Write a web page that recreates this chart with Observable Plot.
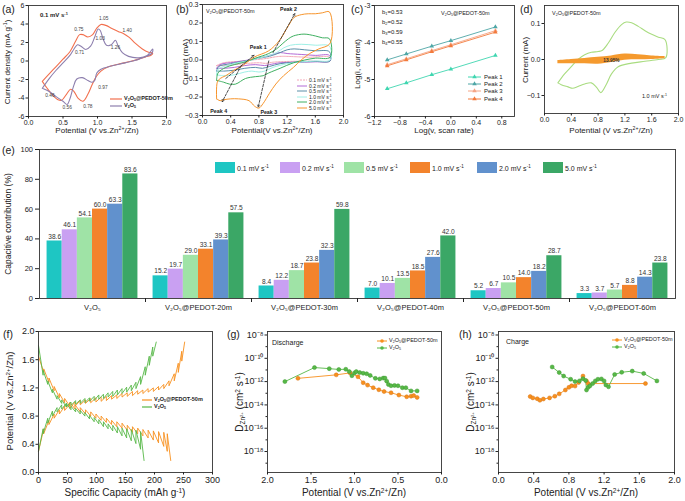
<!DOCTYPE html>
<html><head><meta charset="utf-8">
<script src="https://cdn.jsdelivr.net/npm/d3@7"></script>
<script src="https://cdn.jsdelivr.net/npm/@observablehq/plot@0.6"></script>
<style>
body{margin:0;background:#fff;}
#fig{position:relative;width:685px;height:501px;overflow:hidden;background:#fff;font-family:"Liberation Sans",Arial,sans-serif;color:#222;}
.t{position:absolute;white-space:nowrap;line-height:1;}
.t sup{font-size:65%;vertical-align:0.5em;line-height:0;}
.t sub{font-size:65%;vertical-align:-0.3em;line-height:0;}
</style></head><body><div id="fig"></div>
<script>
// ---------------- DATA ----------------
// (a) CV at 0.1 mV/s : [potential V, current density mA/g]
const aSeries = ["V2O5@PEDOT-50m", "V2O5"];
const aPedot = [[0.2,-2.2],[0.3,-1.4],[0.4,-0.6],[0.5,0.2],[0.6,1.0],[0.68,2.1],[0.74,2.85],[0.79,2.85],[0.86,2.6],[0.93,2.85],[0.99,3.55],[1.05,3.95],[1.12,3.85],[1.2,3.55],[1.3,3.2],[1.38,2.95],[1.46,2.55],[1.55,1.9],[1.65,1.3],[1.74,0.95],[1.8,0.85],[1.78,0.65],[1.7,0.45],[1.5,0.0],[1.3,-0.35],[1.15,-0.65],[1.05,-1.1],[0.98,-1.7],[0.92,-2.6],[0.86,-3.6],[0.79,-4.35],[0.72,-4.05],[0.66,-3.3],[0.61,-3.05],[0.55,-3.6],[0.48,-4.25],[0.42,-4.15],[0.35,-3.7],[0.27,-2.95],[0.2,-2.2]];
const aV2O5 = [[0.2,-2.95],[0.3,-1.9],[0.4,-1.0],[0.5,-0.2],[0.6,0.6],[0.66,1.3],[0.71,1.75],[0.76,1.6],[0.83,1.25],[0.9,1.6],[0.96,2.6],[1.01,3.45],[1.04,3.3],[1.08,2.4],[1.13,1.7],[1.2,1.75],[1.26,2.25],[1.3,1.6],[1.36,0.9],[1.45,0.5],[1.6,0.35],[1.72,0.6],[1.8,1.3],[1.79,0.85],[1.6,0.2],[1.4,-0.2],[1.2,-0.55],[1.05,-0.9],[0.99,-1.3],[0.96,-2.1],[0.92,-2.3],[0.86,-2.1],[0.78,-1.8],[0.7,-1.95],[0.65,-2.8],[0.6,-4.1],[0.56,-4.7],[0.5,-4.35],[0.4,-3.85],[0.3,-3.3],[0.2,-2.95]];
const aPeakLabels = [
  {v:0.73,i:3.45,t:"0.75"},{v:1.09,i:4.55,t:"1.05"},{v:1.43,i:3.3,t:"1.40"},{v:1.04,i:2.4,t:"1.03"},
  {v:0.74,i:0.95,t:"0.71"},{v:1.26,i:1.45,t:"1.26"},{v:0.31,i:-3.7,t:"0.46"},{v:0.56,i:-5.0,t:"0.56"},
  {v:0.86,i:-4.95,t:"0.78"},{v:1.08,i:-2.9,t:"0.97"}];

// (b) CV at several scan rates : [V, mA]
const bRates = ["0.1","0.2","0.5","1.0","2.0","5.0"];
const bCurves = [
  [[0.2,-0.03],[0.3,-0.015],[0.5,-0.008],[0.7,0.0],[0.9,0.008],[1.05,0.018],[1.15,0.02],[1.3,0.018],[1.5,0.015],[1.8,0.015],[1.81,-0.003],[1.5,-0.006],[1.2,-0.008],[1.0,-0.012],[0.9,-0.018],[0.8,-0.015],[0.65,-0.018],[0.45,-0.025],[0.3,-0.03],[0.2,-0.03]],
  [[0.2,-0.045],[0.25,-0.025],[0.45,-0.012],[0.65,0.0],[0.85,0.015],[1.0,0.03],[1.1,0.04],[1.2,0.035],[1.4,0.03],[1.6,0.025],[1.8,0.025],[1.81,-0.005],[1.6,-0.01],[1.3,-0.012],[1.1,-0.015],[0.95,-0.025],[0.88,-0.03],[0.75,-0.025],[0.6,-0.03],[0.45,-0.04],[0.3,-0.045],[0.2,-0.045]],
  [[0.2,-0.06],[0.23,-0.035],[0.4,-0.02],[0.6,-0.005],[0.8,0.01],[0.95,0.02],[1.1,0.04],[1.2,0.055],[1.3,0.06],[1.45,0.055],[1.6,0.05],[1.8,0.045],[1.81,-0.005],[1.6,-0.008],[1.3,-0.012],[1.1,-0.02],[0.95,-0.035],[0.85,-0.045],[0.75,-0.04],[0.6,-0.045],[0.45,-0.055],[0.3,-0.06],[0.2,-0.06]],
  [[0.2,-0.08],[0.22,-0.05],[0.35,-0.03],[0.5,-0.015],[0.7,0.0],[0.9,0.02],[1.05,0.04],[1.15,0.065],[1.25,0.08],[1.4,0.085],[1.6,0.08],[1.8,0.075],[1.81,0.0],[1.6,-0.005],[1.4,-0.01],[1.2,-0.02],[1.0,-0.04],[0.88,-0.06],[0.8,-0.065],[0.7,-0.06],[0.6,-0.065],[0.45,-0.08],[0.3,-0.085],[0.2,-0.08]],
  [[0.2,-0.11],[0.22,-0.07],[0.33,-0.04],[0.45,-0.025],[0.61,-0.01],[0.75,0.01],[0.94,0.035],[1.05,0.06],[1.14,0.09],[1.22,0.115],[1.29,0.13],[1.44,0.14],[1.6,0.13],[1.7,0.12],[1.8,0.115],[1.81,0.015],[1.6,0.01],[1.45,0.0],[1.29,-0.015],[1.1,-0.045],[0.94,-0.07],[0.86,-0.085],[0.75,-0.09],[0.61,-0.1],[0.47,-0.13],[0.38,-0.13],[0.3,-0.12],[0.2,-0.11]],
  [[0.2,-0.21],[0.21,-0.12],[0.25,-0.1],[0.33,-0.085],[0.45,-0.055],[0.57,-0.03],[0.73,0.015],[0.94,0.05],[1.09,0.105],[1.21,0.18],[1.3,0.23],[1.4,0.245],[1.5,0.25],[1.6,0.25],[1.7,0.255],[1.8,0.26],[1.81,0.09],[1.65,0.06],[1.52,0.035],[1.4,0.0],[1.29,-0.04],[1.15,-0.085],[1.04,-0.13],[0.95,-0.18],[0.86,-0.235],[0.8,-0.26],[0.74,-0.25],[0.66,-0.22],[0.51,-0.21],[0.4,-0.21],[0.3,-0.215],[0.25,-0.22],[0.2,-0.21]]
];
const bPeakLines = [
  {x1:0.33,y1:-0.1,x2:0.73,y2:0.025},{x1:1.0,y1:0.04,x2:1.31,y2:0.25},
  {x1:0.94,y1:-0.005,x2:0.79,y2:-0.255},{x1:0.55,y1:-0.03,x2:0.28,y2:-0.225}];
const bPeakLabels = [{v:0.79,i:0.07,t:"Peak 1"},{v:1.22,i:0.272,t:"Peak 2"},{v:0.94,i:-0.285,t:"Peak 3"},{v:0.23,i:-0.275,t:"Peak 4"}];

// (c) log(i) vs log(v)
const cLogV = [-1, -0.7, -0.3, 0, 0.7];
const cPeaks = ["Peak 1","Peak 2","Peak 3","Peak 4"];
const cLogI = [
  [-5.25,-5.09,-4.87,-4.72,-4.35],
  [-4.47,-4.31,-4.1,-3.95,-3.58],
  [-4.6,-4.44,-4.22,-4.06,-3.68],
  [-4.63,-4.47,-4.25,-4.09,-3.72]];
const cB = ["0.53","0.52","0.59","0.55"];

// (d) CV at 1.0 mV/s and capacitive part
const dCV = [[0.2,-0.065],[0.3,-0.04],[0.4,-0.02],[0.5,0.0],[0.6,0.013],[0.7,0.02],[0.8,0.022],[0.86,0.025],[0.95,0.045],[1.05,0.075],[1.15,0.097],[1.22,0.104],[1.3,0.102],[1.4,0.092],[1.5,0.08],[1.6,0.07],[1.7,0.062],[1.8,0.055],[1.81,0.005],[1.7,0.0],[1.5,-0.005],[1.3,-0.01],[1.1,-0.02],[1.0,-0.04],[0.92,-0.07],[0.84,-0.092],[0.78,-0.078],[0.7,-0.065],[0.6,-0.068],[0.5,-0.075],[0.42,-0.08],[0.35,-0.076],[0.25,-0.07],[0.2,-0.065]];
const dCapV  = [0.2, 0.4, 0.6, 0.8, 1.0, 1.2, 1.4, 1.6, 1.8];
const dCapHi = [-0.003, 0.0, 0.003, 0.006, 0.01, 0.015, 0.013, 0.01, 0.008];
const dCapLo = [-0.012, -0.012, -0.012, -0.013, -0.008, -0.002, -0.001, 0.0, 0.002];
const dLabel = [{v:1.0,i:-0.004,t:"13.95%"}];

// (e) capacitive contribution (%)
const eGroups = ["V₂O₅","V₂O₅@PEDOT-20m","V₂O₅@PEDOT-30m","V₂O₅@PEDOT-40m","V₂O₅@PEDOT-50m","V₂O₅@PEDOT-60m"];
const eRates = ["0.1","0.2","0.5","1.0","2.0","5.0"];
const eValues = [
  [38.6,46.1,54.1,60.0,63.3,83.6],
  [15.2,19.7,29.0,33.1,39.3,57.5],
  [8.4,12.2,18.7,23.8,32.3,59.8],
  [7.0,10.1,13.5,18.5,27.6,42.0],
  [5.2,6.7,10.5,14.0,18.2,28.7],
  [3.3,3.7,5.7,8.8,14.3,23.8]];

// (f) GITT profiles: capacity (mAh/g), relaxed potential, end-of-pulse potential
const fPedDisCap   = [0,9,18,27,36,45,54,63,72,81,90,99,108,117,126,135,144,153,162,171,180,189,198,207,216,222,228];
const fPedDisRelax = [1.65,1.47,1.34,1.22,1.12,1.05,1.0,0.96,0.92,0.89,0.86,0.83,0.8,0.77,0.74,0.72,0.7,0.67,0.65,0.63,0.61,0.6,0.59,0.58,0.57,0.55,null];
const fPedDisPulse = [null,1.42,1.28,1.16,1.06,0.99,0.94,0.9,0.86,0.83,0.8,0.77,0.74,0.71,0.68,0.65,0.63,0.6,0.57,0.55,0.52,0.49,0.46,0.42,0.37,0.3,0.17];
const fV2DisCap   = [0,8,16,24,32,40,48,56,64,72,80,88,96,104,112,120,128,136,144,152,160,168,176,182];
const fV2DisRelax = [1.8,1.45,1.3,1.18,1.09,1.03,0.98,0.94,0.91,0.88,0.85,0.81,0.78,0.75,0.72,0.69,0.67,0.65,0.63,0.62,0.61,0.6,0.58,null];
const fV2DisPulse = [null,1.38,1.25,1.13,1.04,0.98,0.93,0.89,0.86,0.83,0.8,0.76,0.72,0.69,0.65,0.62,0.59,0.56,0.52,0.49,0.45,0.41,0.33,0.17];
const fPedChgCap   = [0,9,18,27,36,45,54,63,72,81,90,99,108,117,126,135,144,153,162,171,180,189,198,207,216,225,234,241,247,252];
const fPedChgRelax = [0.3,0.55,0.68,0.77,0.83,0.88,0.91,0.94,0.96,0.98,0.99,1.0,1.01,1.02,1.04,1.05,1.07,1.08,1.09,1.11,1.12,1.14,1.15,1.17,1.19,1.23,1.3,1.42,1.58,null];
const fPedChgPulse = [null,0.62,0.74,0.83,0.89,0.94,0.97,1.0,1.02,1.03,1.05,1.06,1.07,1.08,1.09,1.1,1.12,1.13,1.15,1.16,1.17,1.19,1.2,1.22,1.25,1.3,1.4,1.55,1.72,1.85];
const fV2ChgCap   = [0,8,16,24,32,40,48,56,64,72,80,88,96,104,112,120,128,136,144,152,160,168,176,184,191,197,203];
const fV2ChgRelax = [0.3,0.55,0.7,0.8,0.86,0.9,0.93,0.95,0.97,0.98,0.99,1.01,1.02,1.04,1.05,1.07,1.08,1.1,1.12,1.14,1.16,1.19,1.25,1.38,1.52,1.65,null];
const fV2ChgPulse = [null,0.62,0.77,0.87,0.92,0.96,0.98,1.0,1.02,1.03,1.05,1.06,1.08,1.1,1.11,1.13,1.15,1.17,1.19,1.21,1.24,1.28,1.36,1.5,1.65,1.78,1.85];

// (g) discharge diffusion coefficients
const gPedV = [1.65,1.21,1.05,0.96,0.9,0.85,0.785,0.72,0.66,0.58,0.49,0.40,0.35,0.32,0.28];
const gPedD = [1.9e-12,3.8e-12,5.6e-12,2.6e-12,8e-13,5e-13,3e-13,2e-13,1.4e-13,1.1e-13,7e-14,5e-14,5.6e-14,6.3e-14,4.4e-14];
const gV2V = [1.8,1.46,1.29,1.18,1.1,1.06,1.03,1.0,0.98,0.94,0.9,0.86,0.82,0.76,0.71,0.67,0.65,0.63,0.61,0.58,0.54,0.5,0.45,0.41,0.35,0.28];
const gV2D = [1e-12,1.6e-11,1.3e-11,1.1e-11,1.15e-11,7.2e-12,3.2e-12,5.6e-12,7.2e-12,6e-12,5.2e-12,4.7e-12,3.4e-12,1.9e-12,1.7e-12,2e-12,2e-12,1.1e-12,5.6e-13,4.4e-13,4.7e-13,4.4e-13,3e-13,3e-13,1.6e-13,1.6e-13];
// (h) charge diffusion coefficients
const hPedV = [0.36,0.39,0.44,0.47,0.51,0.58,0.64,0.69,0.76,0.8,0.83,0.87,0.91,0.96,1.0,1.02,1.67];
const hPedD = [5.2e-14,4e-14,3.4e-14,2.5e-14,3.2e-14,4e-14,5.6e-14,8.9e-14,1.9e-13,3.2e-13,4.4e-13,4.1e-13,8.3e-13,3e-12,1.15e-12,6.8e-13,6.8e-13];
const hV2V = [0.61,0.69,0.74,0.82,0.87,0.92,0.96,0.99,1.0,1.02,1.04,1.07,1.1,1.13,1.17,1.2,1.22,1.25,1.32,1.40,1.52,1.65,1.8];
const hV2D = [1.8e-11,6e-12,3e-12,1.6e-12,1e-12,1.15e-12,1.8e-12,1.25e-12,1.9e-13,3.2e-13,4.4e-13,6.8e-13,1.15e-12,1.6e-12,1.7e-12,1.15e-12,5.2e-13,3.6e-13,4.1e-12,6.3e-12,8e-12,5e-12,1.15e-12];

// ---------------- STYLE ----------------
const FONT = "'Liberation Sans', Arial, Helvetica, sans-serif";
const cA = ["#f2704e", "#8d7fae"];
const cB6 = ["#f4a6b6", "#b36ad6", "#5b8fa8", "#9ff0e6", "#3fb061", "#f7952c"];
const cC = ["#3fd6b0", "#4ea6a6", "#f5a585", "#f37a3c"];
const cD = ["#a9dc80", "#f59a2e"];
const cE = ["#1ec6c3", "#c9a0f2", "#9fe3a6", "#f3832c", "#6191cd", "#3ba766"];
const cF = ["#f7901e", "#57b847"];

const fig = document.getElementById("fig");
const f1 = d3.format(".1f");
const supMap = {"-":"⁻","0":"⁰","1":"¹","2":"²","3":"³","4":"⁴","5":"⁵","6":"⁶","7":"⁷","8":"⁸","9":"⁹"};
const pow10 = d => "10" + String(Math.round(Math.log10(d))).split("").map(c => supMap[c]).join("");

function panel(o) {
  const {x0, x1, y0, y1, ml = 32, mr = 8, mt = 8, mb = 24, fs = 7, ...rest} = o;
  const svg = Plot.plot({
    width: x1 - x0 + ml + mr, height: y1 - y0 + mt + mb,
    marginLeft: ml, marginRight: mr, marginTop: mt, marginBottom: mb,
    style: {background: "transparent", fontSize: fs + "px", fontFamily: FONT, maxWidth: "none", overflow: "visible", color: "#222"},
    ...rest
  });
  Object.assign(svg.style, {position: "absolute", left: (x0 - ml) + "px", top: (y0 - mt) + "px"});
  fig.append(svg);
  return svg;
}
const axX = (o = {}) => Plot.axisX({tickSize: 2.5, tickPadding: 1.5, label: null, ...o});
const axY = (o = {}) => Plot.axisY({tickSize: 2.5, tickPadding: 1.5, label: null, ...o});
const frame = () => Plot.frame({stroke: "#333", strokeWidth: 0.9});

function T(html, x, y, size, {anchor = "start", rot = false, bold = false, color = "#222"} = {}) {
  const d = document.createElement("div");
  d.className = "t"; d.innerHTML = html;
  const tx = anchor === "start" ? "0" : anchor === "end" ? "-100%" : "-50%";
  Object.assign(d.style, {left: x + "px", top: y + "px", fontSize: size + "px", fontWeight: bold ? "bold" : "normal", color,
    transform: `translate(${tx},-50%)` + (rot ? " rotate(-90deg)" : "")});
  fig.append(d);
}
function sym(x, y, len, color, {dash = null, marker = null, width = 1} = {}) {
  const s = d3.create("svg").attr("width", len + 4).attr("height", 8)
    .style("position", "absolute").style("left", (x - 2) + "px").style("top", (y - 4) + "px").style("overflow", "visible");
  s.append("line").attr("x1", 2).attr("x2", len + 2).attr("y1", 4).attr("y2", 4)
    .attr("stroke", color).attr("stroke-width", width).attr("stroke-dasharray", dash);
  if (marker === "circle") s.append("circle").attr("cx", 2 + len / 2).attr("cy", 4).attr("r", 1.8).attr("fill", color);
  if (marker === "triangle") s.append("path").attr("d", d3.symbol(d3.symbolTriangle, 9)()).attr("transform", `translate(${2 + len / 2},4)`).attr("fill", color);
  fig.append(s.node());
}
function swatch(x, y, w, h, color) {
  const d = document.createElement("div");
  Object.assign(d.style, {position: "absolute", left: x + "px", top: y + "px", width: w + "px", height: h + "px", background: color});
  fig.append(d);
}
function gitt(caps, relax, pulse) {
  const pts = [[caps[0], relax[0]]];
  for (let i = 1; i < caps.length; i++) {
    pts.push([caps[i], pulse[i]]);
    if (relax[i] != null) pts.push([caps[i], relax[i]]);
  }
  return pts;
}

// ---------------- (a) ----------------
panel({x0: 28, x1: 166, y0: 5, y1: 116, fs: 7,
  x: {domain: [0, 2]}, y: {domain: [-6, 6]},
  marks: [
    Plot.line(aPedot, {x: d => d[0], y: d => d[1], stroke: cA[0], strokeWidth: 1.1, curve: "catmull-rom"}),
    Plot.line(aV2O5, {x: d => d[0], y: d => d[1], stroke: cA[1], strokeWidth: 1.1, curve: "catmull-rom"}),
    Plot.text(aPeakLabels, {x: "v", y: "i", text: "t", fontSize: 4.8, fill: "#444"}),
    frame(),
    axX({ticks: [0, 0.5, 1, 1.5, 2], tickFormat: f1}),
    axY({ticks: [-6, -4, -2, 0, 2, 4, 6], tickFormat: d => String(d)})
  ]});

// ---------------- (b) ----------------
const bRows = bCurves.flatMap((c, k) => c.map(p => ({rate: bRates[k], v: p[0], i: p[1]})));
panel({x0: 202, x1: 343, y0: 4, y1: 115, fs: 7,
  x: {domain: [0, 2]}, y: {domain: [-0.3, 0.3]},
  color: {domain: bRates, range: cB6},
  marks: [
    ...bRates.map((r, k) => Plot.line(bRows.filter(d => d.rate === r), {x: "v", y: "i", stroke: cB6[k], strokeWidth: 1, curve: "catmull-rom", strokeDasharray: k === 0 ? "2,1" : null})),
    Plot.arrow(bPeakLines, {x1: "x1", y1: "y1", x2: "x2", y2: "y2", stroke: "#222", strokeWidth: 0.8, strokeDasharray: "2.5,1.5", headLength: 4}),
    Plot.text(bPeakLabels, {x: "v", y: "i", text: "t", fontSize: 5.3, fontWeight: "bold", fill: "#222"}),
    frame(),
    axX({ticks: [0, 0.4, 0.8, 1.2, 1.6, 2.0], tickFormat: f1}),
    axY({ticks: [-0.3, -0.2, -0.1, 0, 0.1, 0.2, 0.3], tickFormat: f1})
  ]});

// ---------------- (c) ----------------
const cRows = cPeaks.flatMap((p, k) => cLogV.map((x, j) => ({peak: p, x, y: cLogI[k][j]})));
panel({x0: 374, x1: 514, y0: 5, y1: 116, fs: 7,
  x: {domain: [-1.2, 1.0]}, y: {domain: [-6, -3]},
  marks: [
    ...cPeaks.map((p, k) => Plot.line(cRows.filter(d => d.peak === p), {x: "x", y: "y", stroke: cC[k], strokeWidth: 0.9})),
    ...cPeaks.map((p, k) => Plot.dot(cRows.filter(d => d.peak === p), {x: "x", y: "y", fill: cC[k], symbol: "triangle", r: 1.7})),
    frame(),
    axX({ticks: [-1.2, -0.8, -0.4, 0, 0.4, 0.8], tickFormat: f1}),
    axY({ticks: [-6, -5, -4, -3], tickFormat: d => String(d)})
  ]});

// ---------------- (d) ----------------
const dCap = dCapV.map((v, j) => ({v, hi: dCapHi[j], lo: dCapLo[j]}));
panel({x0: 544, x1: 678, y0: 5, y1: 113, fs: 7,
  x: {domain: [0, 2]}, y: {domain: [-0.15, 0.15]},
  marks: [
    Plot.line(dCV, {x: d => d[0], y: d => d[1], stroke: cD[0], strokeWidth: 1.1, curve: "catmull-rom"}),
    Plot.area(dCap, {x1: "v", y1: "lo", y2: "hi", fill: cD[1], curve: "catmull-rom"}),
    Plot.text(dLabel, {x: "v", y: "i", text: "t", fontSize: 4.8, fontWeight: "bold", fill: "#333"}),
    frame(),
    axX({ticks: [0, 0.4, 0.8, 1.2, 1.6, 2.0], tickFormat: f1}),
    axY({ticks: [-0.1, 0, 0.1], tickFormat: f1})
  ]});

// ---------------- (e) ----------------
const eRows = eGroups.flatMap((g, gi) => eRates.map((r, ri) => ({g, gi, r, ri, v: eValues[gi][ri]})));
const eSlot = d => d.gi * 7 + d.ri;
panel({x0: 39, x1: 675, y0: 149, y1: 298, fs: 7.5, ml: 30, mb: 20,
  x: {domain: [-0.5, 41.5]}, y: {domain: [0, 100]},
  color: {domain: eRates, range: cE},
  marks: [
    Plot.rect(eRows, {x1: eSlot, x2: d => eSlot(d) + 1, y1: 0, y2: "v", fill: "r"}),
    Plot.text(eRows, {x: d => eSlot(d) + 0.5, y: "v", text: d => f1(d.v), dy: -4.5, fontSize: 6.6, fill: "#333"}),
    frame(),
    axX({ticks: [6.5, 13.5, 20.5, 27.5, 34.5], tickSize: 4, tickFormat: () => ""}),
    axX({ticks: eGroups.map((g, gi) => gi * 7 + 3), tickSize: 0, tickPadding: 6, tickFormat: x => eGroups[Math.round((x - 3) / 7)]}),
    axY({ticks: [0, 20, 40, 60, 80, 100], tickSize: 4, tickPadding: 2.5, tickFormat: d => String(d)})
  ]});

// ---------------- (f) ----------------
const fCurves = [
  {s: 0, pts: gitt(fPedDisCap, fPedDisRelax, fPedDisPulse)},
  {s: 0, pts: gitt(fPedChgCap, fPedChgRelax, fPedChgPulse)},
  {s: 1, pts: gitt(fV2DisCap, fV2DisRelax, fV2DisPulse)},
  {s: 1, pts: gitt(fV2ChgCap, fV2ChgRelax, fV2ChgPulse)}];
panel({x0: 38, x1: 212, y0: 331, y1: 472, fs: 9,
  x: {domain: [0, 300]}, y: {domain: [0, 2]},
  marks: [
    ...fCurves.map(c => Plot.line(c.pts, {x: d => d[0], y: d => d[1], stroke: cF[c.s], strokeWidth: 0.9})),
    frame(),
    axX({ticks: [0, 50, 100, 150, 200, 250, 300], tickFormat: d => String(d)}),
    axY({ticks: [0, 0.4, 0.8, 1.2, 1.6, 2.0], tickFormat: f1})
  ]});

// ---------------- (g) & (h) ----------------
const logTicks = [1e-8, 1e-10, 1e-12, 1e-14, 1e-16, 1e-18];
const logMinor = [1e-9, 1e-11, 1e-13, 1e-15, 1e-17, 1e-19];
function dPanel(x0, x1, xdom, xticks, ped, v2) {
  panel({x0, x1, y0: 331, y1: 472, fs: 9,
    x: {domain: xdom}, y: {type: "log", domain: [10 ** -19.8, 10 ** -7.7]},
    marks: [
      Plot.line(ped, {x: "v", y: "d", stroke: cF[0], strokeWidth: 0.9}),
      Plot.line(v2, {x: "v", y: "d", stroke: cF[1], strokeWidth: 0.9}),
      Plot.dot(ped, {x: "v", y: "d", r: 2, fill: cF[0], stroke: "#d9761a", strokeWidth: 0.5}),
      Plot.dot(v2, {x: "v", y: "d", r: 2, fill: cF[1], stroke: "#3f9a33", strokeWidth: 0.5}),
      frame(),
      axX({ticks: xticks, tickFormat: f1}),
      axY({ticks: logTicks, tickFormat: pow10}),
      axY({ticks: logMinor, tickSize: 1.5, tickFormat: () => ""})
    ]});
}
const zip = (vs, ds) => vs.map((v, j) => ({v, d: ds[j]}));
dPanel(267, 441, [2, 0], [2, 1.5, 1, 0.5, 0], zip(gPedV, gPedD), zip(gV2V, gV2D));
dPanel(498, 674, [0, 2], [0, 0.4, 0.8, 1.2, 1.6, 2.0], zip(hPedV, hPedD), zip(hV2V, hV2D));

// ---------------- TEXT & LEGENDS ----------------
const zn = "Zn<sup>2+</sup>";
// panel letters
T("(a)", 2, 9, 10.5); T("(b)", 176, 9, 10.5); T("(c)", 351, 9, 10.5); T("(d)", 520, 9, 10.5);
T("(e)", 2, 150, 10.5); T("(f)", 3, 334, 10.5); T("(g)", 227, 334, 10.5); T("(h)", 459, 334, 10.5);
// axis titles top row
T("Current density (mA g<sup>-1</sup>)", 8, 62, 8, {anchor: "middle", rot: true});
T(`Potential (V vs.${zn}/Zn)`, 97, 131, 8, {anchor: "middle"});
T("Current (mA)", 186, 62, 8, {anchor: "middle", rot: true});
T(`Potential(V vs.${zn}/Zn)`, 272, 131, 8, {anchor: "middle"});
T("Log(i, current)", 358, 64, 8, {anchor: "middle", rot: true});
T("Log(v, scan rate)", 444, 131, 8, {anchor: "middle"});
T("Current (mA)", 526, 60, 8, {anchor: "middle", rot: true});
T(`Potential (V vs.${zn}/Zn)`, 611, 131, 8, {anchor: "middle"});
// (e)
T("Capacitive contribution (%)", 8, 224, 8.5, {anchor: "middle", rot: true});
const eSwX = [215, 280, 344, 410, 477, 543];
eRates.forEach((r, k) => { swatch(eSwX[k], 162, 20, 11, cE[k]); T(`${r} mV s<sup>-1</sup>`, eSwX[k] + 22, 168, 7); });
// bottom row titles
T(`Potential (V vs.${zn}/Zn)`, 10, 401, 9.5, {anchor: "middle", rot: true});
T("Specific Capacity (mAh g<sup>-1</sup>)", 125, 493, 10, {anchor: "middle"});
T("D<sub>Zn<sup>2+</sup></sub> (cm<sup>2</sup> s<sup>-1</sup>)", 240, 402, 10, {anchor: "middle", rot: true});
T(`Potential (V vs.${zn}/Zn)`, 354, 493, 10, {anchor: "middle"});
T("D<sub>Zn<sup>2+</sup></sub> (cm<sup>2</sup> s<sup>-1</sup>)", 471, 402, 10, {anchor: "middle", rot: true});
T(`Potential (V vs.${zn}/Zn)`, 586, 493, 10, {anchor: "middle"});
// (a) annotations & legend
T("0.1 mV s<sup>-1</sup>", 40, 15, 6, {bold: true});
sym(110, 99, 12, cA[0], {width: 1.2}); T("V<sub>2</sub>O<sub>5</sub>@PEDOT-50m", 124, 99, 5.5, {bold: true});
sym(110, 106, 12, cA[1], {width: 1.2}); T("V<sub>2</sub>O<sub>5</sub>", 124, 106, 5.5, {bold: true});
// (b)
T("V<sub>2</sub>O<sub>5</sub>@PEDOT-50m", 206, 12, 5.5);
const bLegY = [80, 85.6, 91.2, 96.8, 102.4, 108];
bRates.forEach((r, k) => { sym(297, bLegY[k], 10, cB6[k], {dash: k === 0 ? "2,1" : null}); T(`${r} mV s<sup>-1</sup>`, 309, bLegY[k], 5); });
// (c)
cB.forEach((b, k) => T(`b<sub>${k + 1}</sub>=${b}`, 382, 12 + k * 10, 6));
T("V<sub>2</sub>O<sub>5</sub>@PEDOT-50m", 441, 14, 5.5);
const cLegY = [77, 84, 91, 98.5];
cPeaks.forEach((p, k) => { sym(468, cLegY[k], 13, cC[k], {marker: "triangle"}); T(p, 484, cLegY[k], 6); });
// (d)
T("V<sub>2</sub>O<sub>5</sub>@PEDOT-50m", 552, 14, 5.5);
T("1.0 mV s<sup>-1</sup>", 642, 97, 5.5);
// (f)
sym(142, 400, 10, cF[0], {width: 1.2}); T("V<sub>2</sub>O<sub>5</sub>@PEDOT-50m", 154, 400, 5.5, {bold: true});
sym(142, 407, 10, cF[1], {width: 1.2}); T("V<sub>2</sub>O<sub>5</sub>", 154, 407, 5.5, {bold: true});
// (g)
T("Discharge", 272, 342, 7);
sym(377, 341, 10, cF[0], {marker: "circle"}); T("V<sub>2</sub>O<sub>5</sub>@PEDOT-50m", 389, 341, 5.5);
sym(377, 348, 10, cF[1], {marker: "circle"}); T("V<sub>2</sub>O<sub>5</sub>", 389, 348, 5.5);
// (h)
T("Charge", 506, 341, 7);
sym(612, 340, 10, cF[0], {marker: "circle"}); T("V<sub>2</sub>O<sub>5</sub>@PEDOT-50m", 624, 340, 5.5);
sym(612, 347, 10, cF[1], {marker: "circle"}); T("V<sub>2</sub>O<sub>5</sub>", 624, 347, 5.5);
</script></body></html>
